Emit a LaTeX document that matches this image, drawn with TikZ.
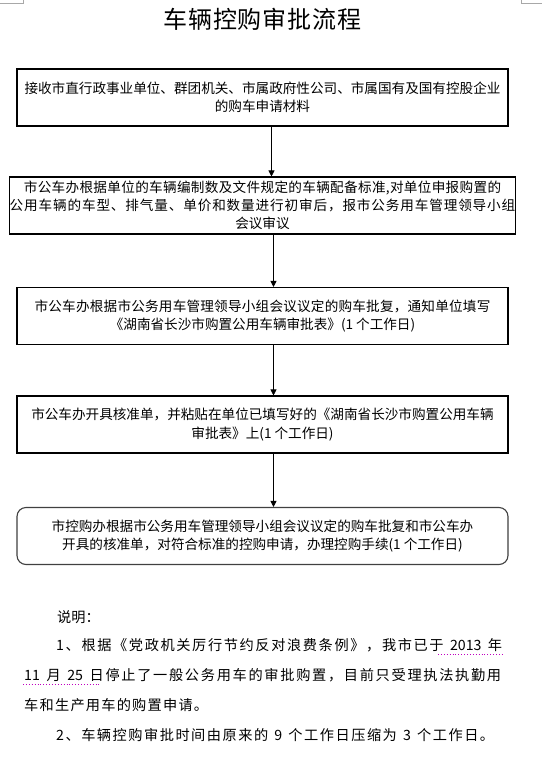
\documentclass[tikz,border=0pt]{standalone}
\usepackage{fontspec}
\setmainfont{Noto Sans CJK SC}
\usetikzlibrary{arrows.meta}
\definecolor{markgray}{HTML}{A8A8A8}
\definecolor{roundgray}{HTML}{404040}
\definecolor{dotpurple}{HTML}{C000C0}
\newcommand{\ls}[2]{{\addfontfeature{LetterSpace=#1}#2}}
\makeatletter
\newcommand{\jline}[2]{\hbox to #1{\@tfor\@ch:=#2\do{\@ch\hfil}\unskip}}
\makeatother
\begin{document}
\begin{tikzpicture}[x=1pt,y=-1pt,
  box/.style={draw=black, line width=1.1pt, minimum width=491pt, minimum height=57pt,
    inner sep=0pt, align=center, font=\fontsize{13.6}{18.3}\selectfont},
  rbox/.style={box, draw=roundgray, rounded corners=9pt},
  flow/.style={-{Triangle[width=6pt,length=6pt]}, line width=0.8pt},
  note/.style={anchor=west, inner sep=0pt, font=\fontsize{14.2}{14.2}\selectfont},
  cornermark/.style={draw=markgray, line width=1pt},
  gramline/.style={draw=dotpurple, dotted, line width=0.9pt}
]
\useasboundingbox (0,0) rectangle (542,761);
\fill[white] (0,0) rectangle (542,761);

\draw[cornermark] (0,3) -- (23,3) -- (23,0);
\draw[cornermark] (521,0) -- (521,3) -- (542,3);

\node[inner sep=0pt, font=\fontsize{24}{24}\selectfont] (title) at (262.5,19)
  {\ls{4}{车辆控购审批流程}};

\node[box] (b1) at (262.5,97.5)
  {接收市直行政事业单位、群团机关、市属政府性公司、市属国有及国有控股企业\\
   的购车申请材料};
\node[box] (b2) at (262.5,205.5)
  {\ls{2.4}{市公车办根据单位的车辆编制数及文件规定的车辆配备标准,对单位申报购置的}\\
   \ls{6.4}{公用车辆的车型、排气量、单价和数量进行初审后，报市公务用车管理领导小组}\\
   会议审议};
\node[box] (b3) at (262.5,316)
  {\ls{1.6}{市公车办根据市公务用车管理领导小组会议议定的购车批复，通知单位填写}\\
   《湖南省长沙市购置公用车辆审批表》(1 个工作日)};
\node[box] (b4) at (262.5,424.5)
  {市公车办开具核准单，并粘贴在单位已填写好的《湖南省长沙市购置公用车辆\\
   审批表》上(1 个工作日)};
\node[rbox] (b5) at (262.5,536)
  {市控购办根据市公务用车管理领导小组会议议定的购车批复和市公车办\\
   开具的核准单，对符合标准的控购申请，办理控购手续(1 个工作日)};

\draw[flow] ([xshift=9pt]b1.south) -- ([xshift=9pt]b2.north);
\draw[flow] ([xshift=11pt]b2.south) -- ([xshift=11pt]b3.north);
\draw[flow] ([xshift=11pt]b3.south) -- ([xshift=11pt]b4.north);
\draw[flow] ([xshift=11pt]b4.south) -- ([xshift=11pt]b5.north);

\node[note] (n0) at (57,617) {\jline{42pt}{说明：}};
\node[note] (n1) at (56,645) {\jline{446pt}{1、根据《党政机关厉行节约反对浪费条例》，我市已于~{2013}~年}};
\node[note] (n2) at (24,675) {\jline{477pt}{{11}~月~{25}~日停止了一般公务用车的审批购置，目前只受理执法执勤用}};
\node[note] (n3) at (24,705) {\jline{184pt}{车和生产用车的购置申请。}};
\node[note] (n4) at (56,735) {\jline{438pt}{2、车辆控购审批时间由原来的~9~个工作日压缩为~3~个工作日。}};

\draw[gramline] (438,654) -- (502,654);
\draw[gramline] (23,684) -- (100,684);
\end{tikzpicture}
\end{document}
